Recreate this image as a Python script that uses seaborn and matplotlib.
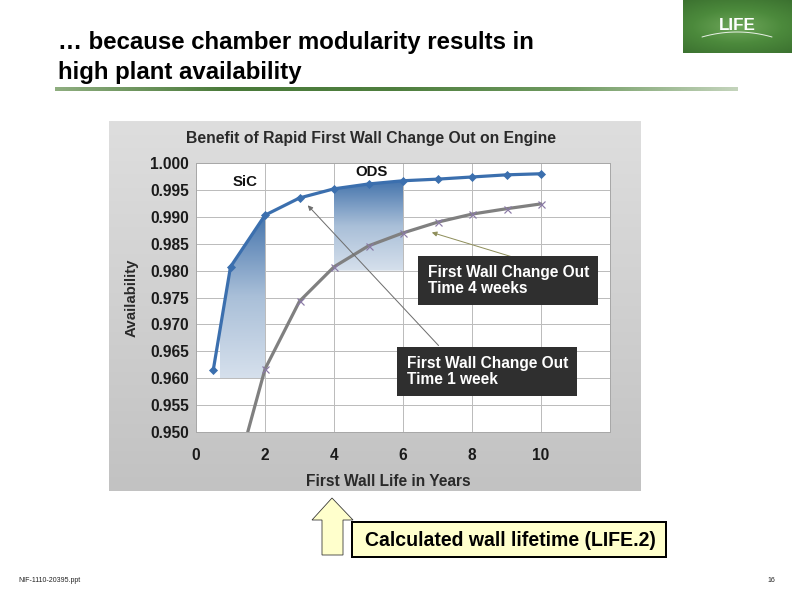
import numpy as np
import pandas as pd
import seaborn as sns
import matplotlib.pyplot as plt
from matplotlib.colors import LinearSegmentedColormap
from matplotlib.patches import Rectangle, Polygon

# values
blue_years = [0.5, 1, 2, 3, 4, 5, 6, 7, 8, 9, 10]
blue_avail = [0.9615, 0.9807, 0.9903, 0.9935, 0.9952, 0.9961, 0.9967, 0.9970, 0.9974, 0.9978, 0.9980]
gray_years = [1.5, 2, 3, 4, 5, 6, 7, 8, 9, 10]
gray_avail = [0.9500, 0.9617, 0.9743, 0.9807, 0.9846, 0.9870, 0.9890, 0.9905, 0.9915, 0.9924]
x_ticks = [0, 2, 4, 6, 8, 10]
y_ticks = [0.950, 0.955, 0.960, 0.965, 0.970, 0.975, 0.980, 0.985, 0.990, 0.995, 1.000]

W, H = 792, 594
BLUE = "#3b6fae"
GRAY = "#808080"

sns.set_theme(style="white")
plt.rcParams['font.family'] = ['Liberation Sans', 'DejaVu Sans']


def rect(x0, y0, x1, y1):
    return [x0 / W, 1 - y1 / H, (x1 - x0) / W, (y1 - y0) / H]


fig = plt.figure(figsize=(11, 8.25), dpi=72)
fig.patch.set_facecolor("white")

# gray panel behind the chart
pa = fig.add_axes(rect(109, 121, 641, 491))
panel_cmap = LinearSegmentedColormap.from_list("panel", ["#c2c2c2", "#dedede"])
pa.imshow(np.linspace(0, 1, 256).reshape(-1, 1), aspect="auto", cmap=panel_cmap,
          origin="lower", extent=[0, 1, 0, 1])
pa.axis("off")

ax = fig.add_axes(rect(196, 163, 610, 432))
ax.set_zorder(1)
ax.set_facecolor("white")

# shaded regions under the 1 week curve
fill_cmap = LinearSegmentedColormap.from_list("fill", ["#d6e0ec", "#a9bfd8", "#4675ad"])
grad = np.linspace(0, 1, 256).reshape(-1, 1)
for base, x0, x1, top in [(0.960, 0.71, 2, 0.9903), (0.980, 4, 6, 0.9967)]:
    poly = ax.fill_between(blue_years, base, blue_avail, facecolor="none", edgecolor="none")
    im = ax.imshow(grad, aspect="auto", cmap=fill_cmap, origin="lower",
                   extent=[x0, x1, base, top], zorder=1)
    im.set_clip_path(poly.get_paths()[0], transform=ax.transData)

df_blue = pd.DataFrame({"years": blue_years, "avail": blue_avail})
df_gray = pd.DataFrame({"years": gray_years, "avail": gray_avail})
sns.lineplot(data=df_gray, x="years", y="avail", ax=ax, color=GRAY, lw=3.2,
             marker="x", markersize=7, markeredgecolor="#8a7aa6", markeredgewidth=1.2,
             markevery=list(range(1, len(gray_years))), zorder=3)
sns.lineplot(data=df_blue, x="years", y="avail", ax=ax, color=BLUE, lw=3.2,
             marker="D", markersize=5.5, markeredgecolor=BLUE, zorder=4)

ax.set_xlim(0, 12)
ax.set_ylim(0.950, 1.000)
ax.set_xticks(range(0, 13, 2))
ax.set_xticklabels([str(t) for t in x_ticks] + [""])
ax.set_yticks(y_ticks)
ax.set_yticklabels([f"{t:.3f}" for t in y_ticks])
ax.grid(True, color="#bcbcbc", lw=1)
ax.set_axisbelow(True)
for s in ax.spines.values():
    s.set_color("#a8a8a8")
    s.set_linewidth(1)
ax.tick_params(axis="both", length=0, labelsize=15.5, colors="#1a1a1a")
ax.tick_params(axis="x", pad=16)
ax.tick_params(axis="y", pad=7)
for lab in ax.get_xticklabels() + ax.get_yticklabels():
    lab.set_fontweight("bold")
ax.set_xlabel("")
ax.set_ylabel("")

ax.text(1.42, 0.9964, "SiC", fontsize=15, fontweight="bold", ha="center", va="center", color="#111111", zorder=5)
ax.text(5.1, 0.9983, "ODS", fontsize=15, fontweight="bold", ha="center", va="center", color="#111111", zorder=5)

# arrows from the boxes to the curves
ax.annotate("", xy=(3.2, 0.9924), xytext=(7.07, 0.9658),
            arrowprops=dict(arrowstyle="-|>", color="#6e6e6e", lw=1, mutation_scale=10), zorder=5)
ax.annotate("", xy=(6.78, 0.9872), xytext=(9.19, 0.9825),
            arrowprops=dict(arrowstyle="-|>", color="#8f8f5c", lw=1, mutation_scale=10), zorder=5)

# overlay in pixel coordinates
ov = fig.add_axes([0, 0, 1, 1])
ov.set_zorder(5)
ov.patch.set_alpha(0)
ov.set_xlim(0, W)
ov.set_ylim(H, 0)
ov.axis("off")

ov.text(371, 139, "Benefit of Rapid First Wall Change Out on Engine", fontsize=15.8,
        fontweight="bold", ha="center", va="center", color="#2a2a2a")
ov.text(388, 481, "First Wall Life in Years", fontsize=15.5, fontweight="bold",
        ha="center", va="center", color="#2a2a2a")
ov.text(132, 298, "Availability", fontsize=15, fontweight="bold", rotation=90,
        ha="center", va="center", color="#2a2a2a")

for x0, y0, x1, y1, txt in [(418, 256, 598, 305, "First Wall Change Out\nTime 4 weeks"),
                            (397, 347, 577, 396, "First Wall Change Out\nTime 1 week")]:
    ov.add_patch(Rectangle((x0, y0), x1 - x0, y1 - y0, facecolor="#2f2f2f", edgecolor="none"))
    ov.text(x0 + 10, (y0 + y1) / 2, txt, fontsize=15.5, fontweight="bold", color="white",
            ha="left", va="center", linespacing=1.12)

# slide title and rule
ov.text(58, 43, "\u2026 because chamber modularity results in", fontsize=24, fontweight="bold",
        ha="left", va="center", color="black")
ov.text(58, 72, "high plant availability", fontsize=24, fontweight="bold",
        ha="left", va="center", color="black")
rule = fig.add_axes(rect(55, 87, 738, 91))
rule_cmap = LinearSegmentedColormap.from_list("rule", ["#8fae80", "#4a7a3a", "#4f7f3f", "#6f9a60", "#c4d4bc"])
rule.imshow(np.linspace(0, 1, 256).reshape(1, -1), aspect="auto", cmap=rule_cmap)
rule.axis("off")

# LIFE logo
logo = fig.add_axes(rect(683, 0, 792, 53))
yy, xx = np.mgrid[-1:1:60j, -1:1:120j]
logo_cmap = LinearSegmentedColormap.from_list("logo", ["#6ea65a", "#4c8a3c", "#3c7230"])
logo.imshow(np.sqrt(xx ** 2 * 0.6 + yy ** 2), aspect="auto", cmap=logo_cmap, extent=[0, 1, 0, 1])
logo.axis("off")
ov.text(737, 25, "LIFE", fontsize=17, fontweight="bold", color="white", ha="center", va="center")
arc_x = np.linspace(702, 772, 40)
ov.plot(arc_x, 37 - 5 * (1 - ((arc_x - 737) / 35) ** 2), color="white", lw=1, alpha=0.85)

# yellow arrow and callout
ov.add_patch(Polygon([(332, 498), (353, 520), (343, 520), (343, 555), (322, 555), (322, 520), (312, 520)],
                     closed=True, facecolor="#ffffcc", edgecolor="#333333", lw=0.8))
ov.add_patch(Rectangle((352, 522), 314, 35, facecolor="#ffffcc", edgecolor="black", lw=2))
ov.text(510, 540, "Calculated wall lifetime (LIFE.2)", fontsize=19.5, fontweight="bold",
        ha="center", va="center", color="black")

ov.text(18, 581, "NIF-1110-20395.ppt", fontsize=7, ha="left", va="center", color="#222222")
ov.text(771, 581, "16", fontsize=7, ha="center", va="center", color="#222222")

fig.savefig("out.png", dpi=72, facecolor="white")
